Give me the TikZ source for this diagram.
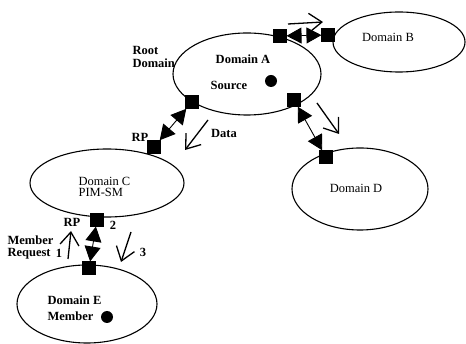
\documentclass[tikz,border=0pt]{standalone}
\usepackage{fontspec}
\setmainfont{Liberation Serif}
\usetikzlibrary{shapes.geometric,arrows.meta}

\begin{document}
\begin{tikzpicture}[x=1pt,y=-1pt,line width=1.1pt,
  domnode/.style={draw,ellipse,inner sep=0pt},
  gate/.style={fill,rectangle,minimum size=14pt,inner sep=0pt},
  src/.style={fill,circle,minimum size=12pt,inner sep=0pt},
  lbl/.style={inner sep=0pt,font=\fontsize{12.5}{13}\selectfont\bfseries},
  lbln/.style={inner sep=0pt,font=\fontsize{12.5}{13}\selectfont},
  peer/.style={{Triangle[length=15pt,width=16pt]}-{Triangle[length=15pt,width=16pt]},line width=0.9pt,shorten <=-1pt,shorten >=-1pt},
  flow/.style={-{Straight Barb[length=13pt,width=19pt]},line width=1.3pt}]
\useasboundingbox (0,0) rectangle (466,344);
% domains
\node [domnode,minimum width=148pt,minimum height=82pt] (domA) at (247,74) {};
\node [domnode,minimum width=132pt,minimum height=60pt] (domB) at (399,42) {};
\node [domnode,minimum width=154pt,minimum height=68pt] (domC) at (107,183) {};
\node [domnode,minimum width=136pt,minimum height=82pt] (domD) at (360,189) {};
\node [domnode,minimum width=140pt,minimum height=78pt] (domE) at (87,304) {};
% border routers
\node [gate] (gAB) at (280,36) {};
\node [gate] (gBA) at (328,35) {};
\node [gate] (gAC) at (192,102) {};
\node [gate] (gCA) at (154,147) {};
\node [gate] (gAD) at (294,100) {};
\node [gate] (gDA) at (326,157) {};
\node [gate] (gCE) at (97,220) {};
\node [gate] (gEC) at (89,268) {};
% hosts
\node [src] (srcA) at (271,81) {};
\node [src] (memE) at (107,317) {};
% labels
\node [lbl] (labA) at (243,59) {Domain A};
\node [lbl] (labSrc) at (229,85) {Source};
\node [lbl,anchor=west] (labRoot) at (132,50) {Root};
\node [lbl,anchor=west] (labRootD) at (132,63) {Domain};
\node [lbln] (labB) at (388,37) {Domain B};
\node [lbln,anchor=west] (labC) at (78,181) {Domain C};
\node [lbln,anchor=west] (labPim) at (78,192) {PIM-SM};
\node [lbln] (labD) at (356,188) {Domain D};
\node [lbl,anchor=west] (labE) at (47,300) {Domain E};
\node [lbl,anchor=west] (labMem) at (47,316) {Member};
\node [lbl] (labData) at (224,133) {Data};
\node [lbl] (labRP1) at (140,137) {RP};
\node [lbl] (labRP2) at (72,222) {RP};
\node [lbl,anchor=west] (labMr) at (7,240) {Member};
\node [lbl,anchor=west] (labReq) at (7,254) {Request};
\node [lbl] (lab1) at (59,253) {1};
\node [lbl] (lab2) at (113,225) {2};
\node [lbl] (lab3) at (143,252) {3};
% peerings
\draw [peer] (gAB) -- (gBA);
\draw [peer] (gAC) -- (gCA);
\draw [peer] (gAD) -- (gDA);
\draw [peer] (gCE) -- (gEC);
% traffic
\coordinate (fAB1) at (288,24);
\coordinate (fAB2) at (323,22);
\coordinate (fData1) at (208,120);
\coordinate (fData2) at (185,150);
\coordinate (fAD1) at (317,103);
\coordinate (fAD2) at (339,134);
\coordinate (fReq1) at (68,259);
\coordinate (fReq2) at (71,231);
\coordinate (fJoin1) at (131,232);
\coordinate (fJoin2) at (121,262);
\draw [flow] (fAB1) -- (fAB2);
\draw [flow] (fData1) -- (fData2);
\draw [flow] (fAD1) -- (fAD2);
\draw [flow] (fReq1) -- (fReq2);
\draw [flow] (fJoin1) -- (fJoin2);
\end{tikzpicture}
\end{document}
